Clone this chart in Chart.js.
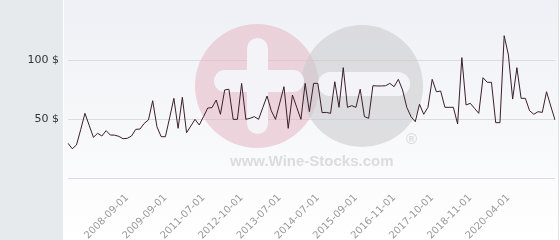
<!DOCTYPE html>
<html>
<head>
<meta charset="utf-8">
<script src="https://cdn.jsdelivr.net/npm/chart.js@4"></script>
<style>
  html, body { margin: 0; padding: 0; background: #fff; }
  #wrap { width: 560px; height: 240px; }
</style>
</head>
<body>
<div id="wrap"><canvas id="priceChart" width="560" height="240"></canvas></div>
<script>
// price history (one value per sale)
const prices = [
  29.4, 24.8, 28, 41, 54.8, 44.6, 34.5, 37.9, 35.6, 40.1,
  36.4, 36.3, 35.3, 33.3, 33.6, 35.6, 41.2, 41.5, 46.3, 49.2,
  65.5, 43.5, 35, 35, 51, 67.5, 42.1, 68.4, 38.4, 44,
  49.7, 44.9, 52, 59.3, 59.6, 66.1, 54, 74.6, 75.2, 49.7,
  49.7, 80.2, 49.7, 50.6, 52, 49.7, 59.6, 69.5, 57, 49.7,
  63.5, 77.4, 42.1, 70.3, 60, 49.7, 80.2, 56.2, 80.2, 80.2,
  55.4, 55.6, 54.8, 81.6, 59.9, 93.5, 59.9, 61.3, 59.9, 75.2,
  52, 50.6, 78.2, 78, 78, 78.2, 80.2, 77.4, 83.6, 74.6,
  59.9, 52, 47.7, 62.5, 54, 59.9, 83.6, 73.1, 73.7, 59.9,
  59.9, 59.9, 45.8, 102, 61.9, 63.3, 59, 54.8, 85, 81.1,
  81.1, 46.9, 46.9, 120.6, 104.2, 66.9, 93.5, 67.5, 67.5, 57,
  54, 56.2, 55.6, 73.1, 61, 49.2
];

// dates shown on the x axis (every 9th sale, starting at the 15th)
const tickDates = [
  "2008-09-01", "2009-09-01", "2011-07-01", "2012-10-01", "2013-07-01",
  "2014-07-01", "2015-09-01", "2016-11-01", "2017-10-01", "2018-11-01", "2020-04-01"
];
const firstTick = 14;
const tickStep = 9;

// y axis labels
const yTicks = [50, 100];

const categories = prices.map(function (v, i) {
  const k = (i - firstTick) / tickStep;
  return (i >= firstTick && Number.isInteger(k) && tickDates[k]) ? tickDates[k] : "";
});

// backgrounds: grey side panel + light gradient plot panel
const panelBg = {
  id: "panelBg",
  beforeDraw(chart) {
    const c = chart.ctx;
    c.save();
    c.fillStyle = "#e6eaed";
    c.fillRect(0, 0, 63, chart.height);
    const g = c.createLinearGradient(0, 0, 0, chart.height);
    g.addColorStop(0, "#eff0f5");
    g.addColorStop(1, "#ffffff");
    c.fillStyle = g;
    c.fillRect(63, 0, 495, chart.height);
    c.fillStyle = "#ffffff";
    c.fillRect(63, 0, 1, chart.height);
    c.fillStyle = "#e2e3e6";
    c.fillRect(558, 0, 1, chart.height);
    c.restore();
  }
};

// faint site logo behind the line
const watermark = {
  id: "watermark",
  beforeDatasetsDraw(chart) {
    const c = chart.ctx;
    function bar(x, y, w, h) {
      const r = Math.min(w, h) / 2;
      c.beginPath();
      c.roundRect(x, y, w, h, r);
      c.fill();
    }
    c.save();
    c.globalAlpha = 0.55;
    c.fillStyle = "#e3b7c3";
    c.beginPath();
    c.arc(257, 86, 62, 0, Math.PI * 2);
    c.fill();
    c.fillStyle = "#c8c8cc";
    c.beginPath();
    c.arc(362, 86, 61, 0, Math.PI * 2);
    c.fill();
    c.globalAlpha = 1;
    c.fillStyle = "#f4f4f8";
    bar(247, 38, 21, 96);
    bar(214, 70, 90, 22);
    bar(318, 72, 92, 24);
    c.fillStyle = "#dcdcde";
    c.font = "bold 15px 'Liberation Sans', Arial, sans-serif";
    c.textBaseline = "middle";
    c.textAlign = "left";
    c.fillText("www.Wine-Stocks.com", 230, 162);
    c.font = "bold 15px 'Liberation Sans', Arial, sans-serif";
    c.fillText("®", 406, 140);
    c.restore();
  }
};

const ctx = document.getElementById("priceChart").getContext("2d");
new Chart(ctx, {
  type: "line",
  data: {
    labels: categories,
    datasets: [{
      data: prices,
      borderColor: "#3a1f2a",
      borderWidth: 1,
      pointRadius: 0,
      tension: 0,
      fill: false
    }]
  },
  options: {
    responsive: false,
    animation: false,
    layout: { padding: { top: 1, right: 5, left: 0, bottom: 0 } },
    plugins: { legend: { display: false }, tooltip: { enabled: false } },
    scales: {
      x: {
        offset: false,
        grid: { display: false },
        border: { display: false },
        afterFit: function (scale) {
          scale.height = 62;
          scale.paddingLeft = 0;
          scale.paddingRight = 0;
        },
        ticks: {
          autoSkip: false,
          minRotation: 45,
          maxRotation: 45,
          padding: 6,
          color: "#9a9a9a",
          font: { family: "'DejaVu Sans'", size: 10 },
          callback: function (val, i) { return categories[i]; }
        }
      },
      y: {
        min: 0,
        max: 150,
        afterFit: function (scale) {
          scale.width = 68;
          scale.paddingTop = 0;
          scale.paddingBottom = 0;
        },
        border: { display: false },
        grid: {
          drawTicks: false,
          color: function (c) { return c.tick.value >= 150 ? "rgba(0,0,0,0)" : "#dcdcdc"; }
        },
        ticks: {
          stepSize: 50,
          padding: 9,
          color: "#333",
          font: { family: "'DejaVu Sans'", size: 11 },
          callback: function (v) { return yTicks.includes(v) ? v + " $" : ""; }
        }
      }
    }
  },
  plugins: [panelBg, watermark]
});
</script>
</body>
</html>
